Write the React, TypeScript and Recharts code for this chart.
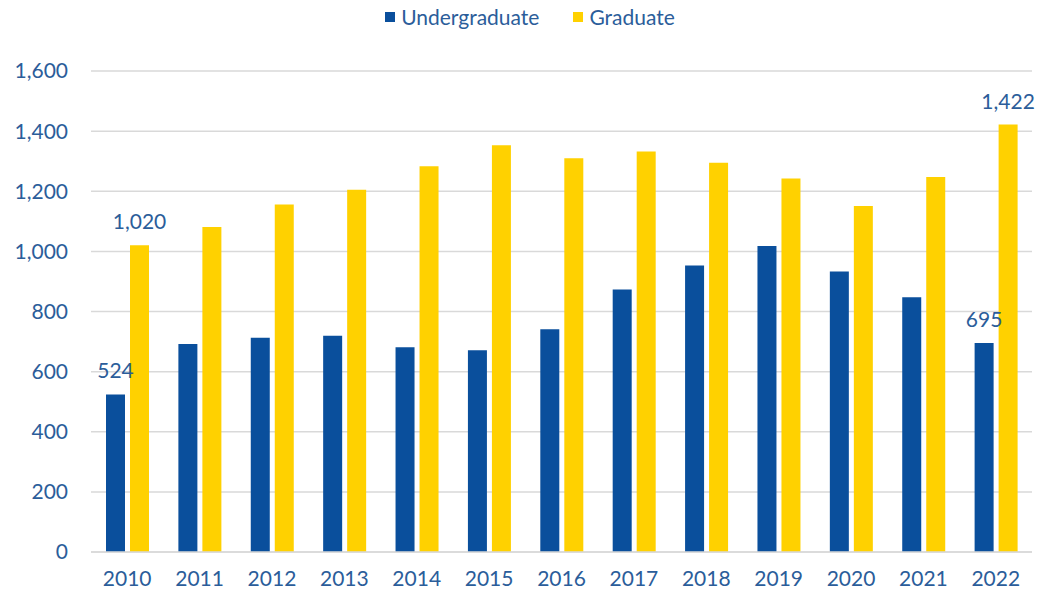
import React from 'react';
import { BarChart, Bar, XAxis, YAxis, CartesianGrid, Legend, LabelList } from 'recharts';

const years = ['2010','2011','2012','2013','2014','2015','2016','2017','2018','2019','2020','2021','2022'];
const undergraduate = [524, 692, 713, 719, 681, 671, 741, 873, 953, 1018, 933, 847, 695];
const graduate = [1020, 1081, 1156, 1205, 1283, 1353, 1310, 1332, 1295, 1242, 1151, 1247, 1422];
const yTicks = [0, 200, 400, 600, 800, 1000, 1200, 1400, 1600];
const labelledIndices = [0, 12];
const seriesNames = ['Undergraduate', 'Graduate'];

const data = years.map((y, i) => ({
  year: y,
  Undergraduate: undergraduate[i],
  Graduate: graduate[i],
  ugLabel: labelledIndices.includes(i) ? undergraduate[i] : null,
  gLabel: labelledIndices.includes(i) ? graduate[i] : null,
}));

const BLUE = '#0A4F9C';
const YELLOW = '#FFD100';
const TEXT = '#2B5D9A';
const FONT = 'Lato, "Open Sans", sans-serif';
const FS = 21;
const colors: Record<string, string> = { Undergraduate: BLUE, Graduate: YELLOW };

const fmt = (v: number) => v.toLocaleString('en-US');

const renderLabel = (props: any) => {
  const { x, y, width, value } = props;
  if (value === null || value === undefined || value === '') return null;
  return (
    <text x={x + width / 2} y={y - 16} textAnchor="middle" fill={TEXT} fontSize={FS} fontFamily={FONT}>
      {fmt(Number(value))}
    </text>
  );
};

const renderLegend = () => (
  <div style={{ display: 'flex', justifyContent: 'center', fontFamily: FONT, fontSize: FS, color: TEXT, paddingLeft: 28 }}>
    {seriesNames.map((n) => (
      <div key={n} style={{ display: 'flex', alignItems: 'center', marginRight: n === 'Undergraduate' ? 34 : 0 }}>
        <span style={{ display: 'inline-block', width: 10, height: 10, background: colors[n], marginRight: 6 }} />
        <span>{n}</span>
      </div>
    ))}
  </div>
);

export default function App() {
  return (
    <div style={{ position: 'absolute', left: 0, top: 0, width: 1040, height: 592, background: '#fff' }}>
      <BarChart
        width={1040}
        height={592}
        data={data}
        margin={{ top: 46, right: 8, left: 0, bottom: 0 }}
        barSize={19}
        barGap={5}
      >
        <CartesianGrid vertical={false} stroke="#D9D9D9" strokeWidth={1.5} />
        <Legend verticalAlign="top" align="center" content={renderLegend} wrapperStyle={{ top: 4 }} />
        <XAxis
          dataKey="year"
          height={40}
          tickLine={false}
          axisLine={{ stroke: '#D9D9D9', strokeWidth: 1.5 }}
          tick={{ fill: TEXT, fontSize: FS, fontFamily: FONT }}
          tickMargin={13}
        />
        <YAxis
          width={91}
          domain={[0, 1600]}
          ticks={yTicks}
          tickFormatter={fmt}
          tickLine={false}
          axisLine={false}
          tick={{ fill: TEXT, fontSize: FS, fontFamily: FONT }}
          tickMargin={17}
        />
        <Bar dataKey="Undergraduate" fill={BLUE} isAnimationActive={false}>
          <LabelList dataKey="ugLabel" content={renderLabel} />
        </Bar>
        <Bar dataKey="Graduate" fill={YELLOW} isAnimationActive={false}>
          <LabelList dataKey="gLabel" content={renderLabel} />
        </Bar>
      </BarChart>
    </div>
  );
}
